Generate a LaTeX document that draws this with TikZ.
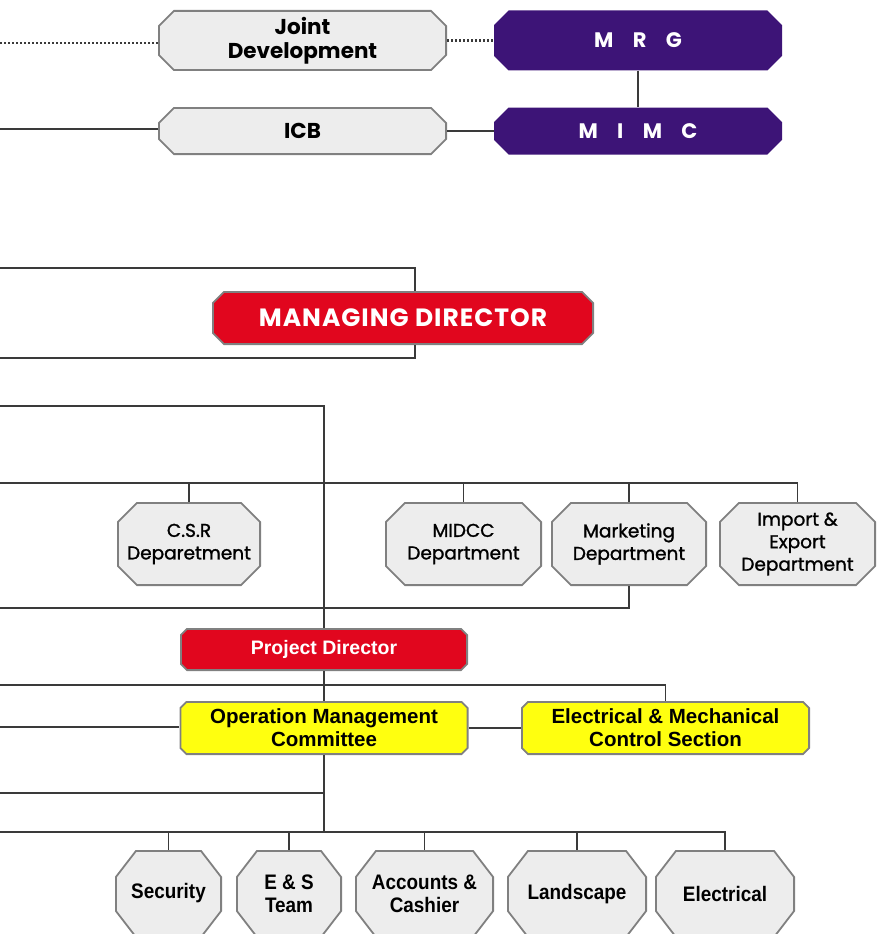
\documentclass[tikz,border=0pt]{standalone}
\usepackage{fontspec}
\setmainfont{Liberation Sans}
\newfontfamily\montf{Poppins}
\newfontfamily\montmid{Poppins}[FakeBold=1.3]
\newfontfamily\spacedf{Poppins}[LetterSpace=25,WordSpace=2]
\newfontfamily\narrowf{Liberation Sans}[FakeStretch=0.9]
\usetikzlibrary{calc}
\definecolor{purp}{HTML}{3D1477}
\definecolor{mdred}{HTML}{E1061E}
\definecolor{ylw}{HTML}{FFFF0F}
\definecolor{boxgray}{HTML}{EDEDED}
\definecolor{edgegray}{HTML}{808080}
\definecolor{linegray}{HTML}{3A3A3A}
\tikzset{
  oct/.style n args={4}{path picture={
      \draw[fill=#3, draw=#4, line width=1.8pt]
        let \p1=(path picture bounding box.south west),
            \p2=(path picture bounding box.north east) in
        (\x1+#1,\y1+0.9pt) -- (\x2-#1,\y1+0.9pt) -- (\x2-0.9pt,\y1+#2)
        -- (\x2-0.9pt,\y2-#2) -- (\x2-#1,\y2-0.9pt) -- (\x1+#1,\y2-0.9pt)
        -- (\x1+0.9pt,\y2-#2) -- (\x1+0.9pt,\y1+#2) -- cycle;
    }, inner sep=0pt, align=center},
  greybox/.style={oct={16pt}{16pt}{boxgray}{edgegray}, minimum width=289, font=\montf\bfseries\fontsize{21.5}{24}\selectfont},
  purpbox/.style={oct={15pt}{15pt}{purp}{purp}, minimum width=288, text=white,
    font=\spacedf\bfseries\fontsize{21}{24}\selectfont},
  mdbox/.style={oct={12pt}{12pt}{mdred}{edgegray}, text=white,
    font=\montf\bfseries\fontsize{25}{28}\selectfont\addfontfeature{LetterSpace=4}},
  dept/.style={oct={20pt}{20pt}{boxgray}{edgegray}, minimum height=84, font=\montmid\fontsize{18.5}{22.5}\selectfont},
  pdbox/.style={oct={7pt}{7pt}{mdred}{edgegray}, minimum width=288, text=white, font=\bfseries\fontsize{19.5}{22}\selectfont},
  ylbox/.style={oct={7pt}{7pt}{ylw}{edgegray}, minimum width=289, minimum height=54, font=\bfseries\fontsize{20.5}{23}\selectfont},
  unitbox/.style={oct={21pt}{27pt}{boxgray}{edgegray}, minimum height=88, font=\narrowf\bfseries\fontsize{21}{23}\selectfont},
  wire/.style={draw=linegray, line width=1.6pt},
  dots/.style={draw=linegray, line width=2.2pt, dash pattern=on 2pt off 2pt}
}

\begin{document}
\begin{tikzpicture}[x=1pt, y=-1pt]
  \useasboundingbox (0,0) rectangle (877,934);
  \clip (0,0) rectangle (877,934);

  % Top row
  \node[greybox, minimum height=61] (jd)   at (302.5,40.5) {Joint\\Development};
  \node[purpbox, minimum height=60] (mrg)  at (638,40.5)   {M R G};
  \node[greybox, minimum height=48] (icb)  at (302.5,131)  {ICB};
  \node[purpbox, minimum height=47] (mimc) at (638,131)    {M I M C};

  \node[mdbox, minimum width=382, minimum height=54] (md) at (403,318) {MANAGING DIRECTOR};

  % Departments
  \node[dept, minimum width=144] (csr)   at (189,544)   {C.S.R\\Deparetment};
  \node[dept, minimum width=157] (midcc) at (463.5,544) {MIDCC\\Department};
  \node[dept, minimum width=156] (mkt)   at (629,544)   {Marketing\\Department};
  \node[dept, minimum width=157] (imp)   at (797.5,544) {Import \&\\Export\\Department};

  \node[pdbox, minimum height=43] (pd) at (324,649.5) {Project Director};
  \node[ylbox] (omc) at (324,728)   {Operation Management\\Committee};
  \node[ylbox] (emc) at (665.5,728) {Electrical \& Mechanical\\Control Section};

  % Units
  \node[unitbox, minimum width=107] (sec) at (168.5,894) {\raisebox{7pt}{Security}};
  \node[unitbox, minimum width=106] (est) at (289,894)   {E \& S\\Team};
  \node[unitbox, minimum width=139] (acc) at (424.5,894) {Accounts \&\\Cashier};
  \node[unitbox, minimum width=140] (lan) at (577,894)   {Landscape};
  \node[unitbox, minimum width=140] (ele) at (725,894)   {Electrical};

  % Free ends on the left edge
  \coordinate (jdin)    at (0,43);
  \coordinate (icbin)   at (0,129);
  \coordinate (mdtop)   at (0,268);
  \coordinate (mdbot)   at (0,358);
  \coordinate (trunkin) at (0,406);
  \coordinate (deptin)  at (0,483);
  \coordinate (mktin)   at (0,608);
  \coordinate (emcin)   at (0,685);
  \coordinate (omcin)   at (0,727);
  \coordinate (sidein)  at (0,793);
  \coordinate (unitin)  at (0,832);

  % Connectors
  \draw[dots] (jdin) -- (jdin -| jd.west);
  \draw[dots] (jd) -- (mrg);
  \draw[wire] (mrg) -- (mimc);
  \draw[wire] (icbin) -- (icbin -| icb.west);
  \draw[wire] (icb) -- (mimc);

  \draw[wire] (mdtop) -| ([xshift=12pt]md.north);
  \draw[wire] (mdbot) -| ([xshift=12pt]md.south);
  \draw[wire] (trunkin) -| (pd.north);

  \draw[wire] (deptin) -| (imp.north);
  \foreach \d in {csr,midcc,mkt}
    \draw[wire] (\d.north) -- (\d.north |- deptin);
  \draw[wire] (mktin) -| (mkt.south);

  \draw[wire] (pd) -- (omc);
  \draw[wire] (emcin) -| (emc.north);
  \draw[wire] (omcin) -- (omcin -| omc.west);
  \draw[wire] (omc) -- (emc);

  \draw[wire] (omc.south) -- (omc.south |- unitin);
  \draw[wire] (sidein) -- (sidein -| omc.south);
  \draw[wire] (unitin) -| (ele.north);
  \foreach \u in {sec,est,acc,lan}
    \draw[wire] (\u.north) -- (\u.north |- unitin);
\end{tikzpicture}
\end{document}
